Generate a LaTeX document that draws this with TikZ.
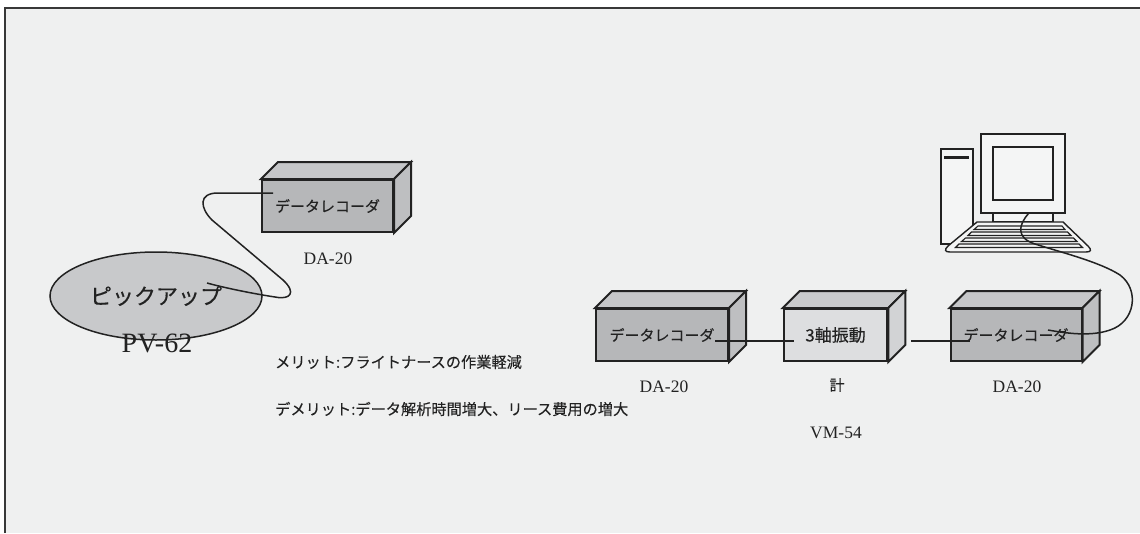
\documentclass[tikz,border=0pt]{standalone}
\usepackage{fontspec}
\usetikzlibrary{shapes.geometric}
\newfontfamily\jpfont[FakeBold=0.25]{Noto Sans CJK JP}
\newfontfamily\serfont{Liberation Serif}
\definecolor{bg}{HTML}{EFF0F0}
\definecolor{ink}{HTML}{222222}
\definecolor{recfront}{HTML}{B6B7B9}
\definecolor{rectop}{HTML}{C6C7C9}
\definecolor{recside}{HTML}{BEBFC1}
\definecolor{vibfront}{HTML}{DDDEE0}
\definecolor{vibtop}{HTML}{C9CACC}
\definecolor{vibside}{HTML}{D2D3D5}
\definecolor{pickfill}{HTML}{C8C9CB}
\definecolor{pcfill}{HTML}{F4F5F5}

\tikzset{
  boxfront/.style={draw=ink, line width=2pt, inner sep=0pt, minimum height=52pt,
    font=\jpfont\fontsize{15}{17}\selectfont, text=ink},
  recbox/.style={boxfront, fill=recfront},
  vibbox/.style={boxfront, fill=vibfront, font=\jpfont\fontsize{17}{19}\selectfont},
  face/.style={draw=ink, line width=2pt},
  cable/.style={draw=ink, line width=1.5pt},
  model/.style={font=\serfont\fontsize{17.5}{19}\selectfont, text=ink, inner sep=0pt},
  note/.style={font=\jpfont\fontsize{15.2}{17}\selectfont, text=ink, inner sep=0pt, anchor=west},
  pcline/.style={draw=ink, line width=1.4pt, fill=pcfill},
}

% top and right faces of a cuboid whose front face is node #1
\newcommand\cubefaces[3]{%
  \path[face, fill=#2] (#1.north west) -- ++(17,-17) -- ([shift={(17,-17)}]#1.north east) -- (#1.north east) -- cycle;
  \path[face, fill=#3] (#1.north east) -- ++(17,-17) -- ([shift={(17,-17)}]#1.south east) -- (#1.south east) -- cycle;}

\begin{document}
\begin{tikzpicture}[x=1pt, y=-1pt]
\useasboundingbox (0,0) rectangle (1140,533);
\fill[white] (0,0) rectangle (1140,533);
\fill[bg] (5,8) rectangle (1140,533);
\draw[line width=2.2pt, draw=ink!90] (5,533) -- (5,8) -- (1140,8);

% pickup and first recorder
\node[draw=ink, line width=1.5pt, fill=pickfill, ellipse, minimum width=212pt, minimum height=88pt,
      inner sep=0pt, font=\jpfont\fontsize{22}{24}\selectfont, text=ink] (pick) at (156,296) {ピックアップ};
\node[font=\serfont\fontsize{28}{30}\selectfont, text=ink, inner sep=0pt] (pv) at (157,343) {PV-62};

\node[recbox, minimum width=131pt] (rec1) at (327.5,206) {データレコーダ};
\cubefaces{rec1}{rectop}{recside}
\node[model] (da1) at (328,259) {DA-20};

\coordinate (rec1port) at (273,193);
\coordinate (pickport) at (207,283);
\draw[cable] (rec1port) -- (218,193) .. controls (198,193) and (200,208) .. (212,220)
  -- (283,280) .. controls (297,293) and (290,300) .. (275,297)
  .. controls (255,294) and (225,288) .. (pickport);

% notes
\node[note] (merit) at (275,362) {メリット:フライトナースの作業軽減};
\node[note] (demerit) at (275,409) {デメリット:データ解析時間増大、リース費用の増大};

% recorder, vibration meter, recorder
\node[recbox, minimum width=132pt] (recA) at (662,335) {データレコーダ};
\cubefaces{recA}{rectop}{recside}
\node[vibbox, minimum width=103.5pt] (vib) at (835.5,335) {3軸振動};
\cubefaces{vib}{vibtop}{vibside}
\node[recbox, minimum width=131pt] (recC) at (1016,335) {データレコーダ};
\cubefaces{recC}{rectop}{recside}

\node[model] (daA) at (664,387) {DA-20};
\node[font=\jpfont\fontsize{15}{17}\selectfont, text=ink, inner sep=0pt] (kei) at (837,385) {計};
\node[model] (vm) at (836,433) {VM-54};
\node[model] (daC) at (1017,387) {DA-20};

\coordinate (recAport) at (715,341);
\coordinate (vibin) at (794,341);
\coordinate (vibout) at (911,341);
\coordinate (recCin) at (970,341);
\draw[cable] (recAport) -- (vibin);
\draw[cable] (vibout) -- (recCin);

% personal computer
\draw[pcline] (941,149) rectangle (973,244);
\draw[line width=3pt, draw=ink] (944,157) -- (969,157);
\draw[pcline] (981,134) rectangle (1065,213);
\draw[pcline] (993,147) rectangle (1053,200);
\draw[pcline] (993,213) rectangle (1053,222);
\draw[pcline] (977,222) -- (1063,222) -- (1088,246) .. controls (1092,250) and (1091,252) .. (1086,252)
  -- (950,252) .. controls (945,252) and (944,250) .. (948,246) -- cycle;
\draw[pcline, line width=1.1pt] (978,226) -- (1062,226) -- (1065,229.5) -- (974,229.5) -- cycle;
\draw[pcline, line width=1.1pt] (971.5,232) -- (1067.5,232) -- (1071,235.5) -- (968,235.5) -- cycle;
\draw[pcline, line width=1.1pt] (965.5,238) -- (1073.5,238) -- (1077,241.5) -- (961.5,241.5) -- cycle;
\draw[pcline, line width=1.1pt] (959,244) -- (1079,244) -- (1082.5,247.5) -- (955.5,247.5) -- cycle;

\coordinate (pcport) at (1029,213);
\coordinate (recCport) at (1048,330);
\draw[cable] (pcport) .. controls (1018,225) and (1016,238) .. (1035,244)
  .. controls (1060,252) and (1100,262) .. (1120,275)
  .. controls (1140,290) and (1135,322) .. (1110,330)
  .. controls (1090,337) and (1065,333) .. (recCport);
\end{tikzpicture}
\end{document}
